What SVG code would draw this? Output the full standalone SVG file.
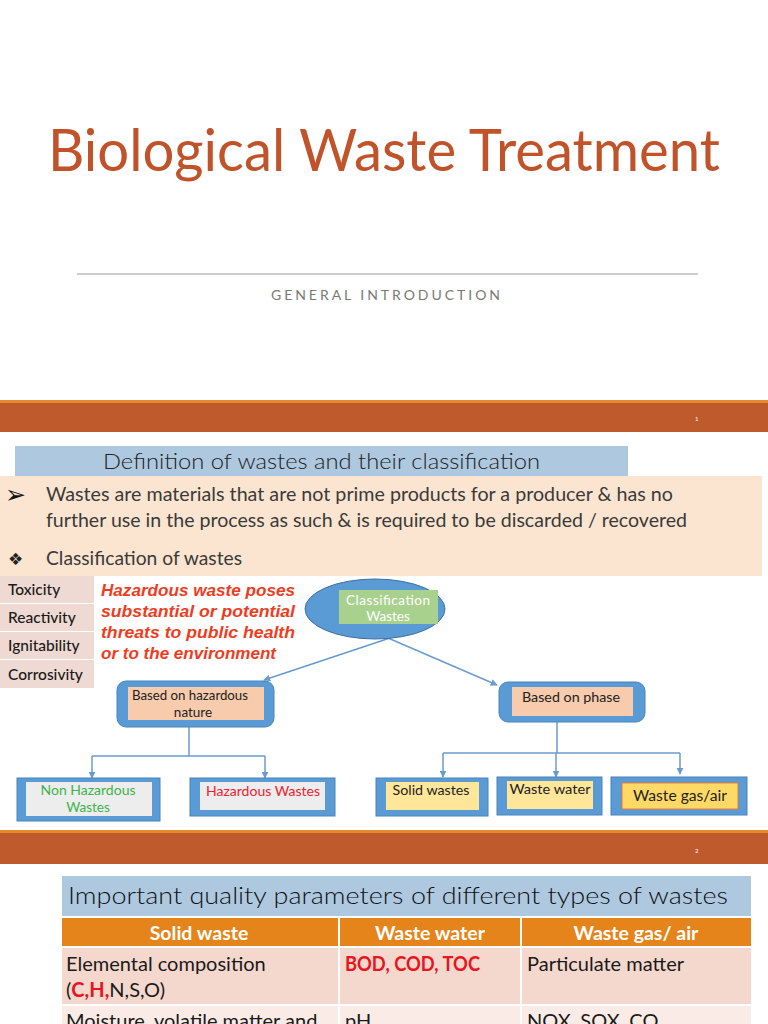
<svg xmlns="http://www.w3.org/2000/svg" width="768" height="1024" viewBox="0 0 768 1024">
<defs>
<style>
.lato{font-family:Lato,"Open Sans","Liberation Sans",sans-serif}
.bt{font-family:Lato,"Open Sans","Liberation Sans",sans-serif;font-size:19px;fill:#3a3a3a}
.sm{font-family:Lato,"Open Sans","Liberation Sans",sans-serif;font-size:13.5px;fill:#222;text-anchor:middle}
.tab{font-family:Lato,"Open Sans","Liberation Sans",sans-serif;font-size:15.5px;fill:#1a1a1a;font-weight:500}
.red{font-family:"Liberation Sans",Arial,sans-serif;font-size:17px;font-weight:bold;font-style:italic;fill:#F03C1E}
.outer{fill:#5B9BD5;stroke:#4A84BA;stroke-width:1}
.conn{fill:none;stroke:#6A9BD0;stroke-width:1.5}
.cell{font-family:Lato,"Open Sans","Liberation Sans",sans-serif;font-size:20px;fill:#1a1a1a}
.hd{font-family:Lato,"Open Sans","Liberation Sans",sans-serif;font-size:19.5px;fill:#fff;font-weight:bold;text-anchor:middle}
</style>
<marker id="ah" viewBox="0 0 10 10" refX="9" refY="5" markerWidth="7" markerHeight="7" orient="auto" markerUnits="userSpaceOnUse">
<path d="M0,0 L10,5 L0,10 z" fill="#6A9BD0"/>
</marker>
</defs>
<rect width="768" height="1024" fill="#fff"/>

<g id="slide1">
<text x="48" y="171" class="lato" font-size="58" font-weight="400" fill="#C0532A" textLength="672" lengthAdjust="spacingAndGlyphs">Biological Waste Treatment</text>
<line x1="77" y1="274" x2="698" y2="274" stroke="#9a9a9a" stroke-width="1.2"/>
<text x="271" y="300" class="lato" font-size="14" fill="#7a7a72" textLength="229" lengthAdjust="spacing">GENERAL INTRODUCTION</text>
</g>

<g id="band1">
<rect x="0" y="400" width="768" height="32" fill="#BE5A2C"/>
<rect x="0" y="400" width="768" height="3" fill="#E58B2E"/>
<text x="695" y="421" class="lato" font-size="6" fill="#fff">1</text>
</g>

<g id="header-def">
<rect x="15" y="446" width="613" height="30" fill="#ADC8DF"/>
<text x="103" y="469" class="lato" font-size="22" font-weight="300" fill="#222" textLength="437" lengthAdjust="spacingAndGlyphs">Definition of wastes and their classification</text>
</g>

<g id="bullets">
<rect x="0" y="476" width="762" height="100" fill="#FBE5D0"/>
<text x="5" y="503" font-family="'DejaVu Sans','Noto Sans',sans-serif" font-size="25" fill="#111">➢</text>
<text x="46" y="501" class="bt" textLength="627" lengthAdjust="spacingAndGlyphs">Wastes are materials that are not prime products for a producer &amp; has no</text>
<text x="46" y="527" class="bt" textLength="641" lengthAdjust="spacingAndGlyphs">further use in the process as such &amp; is required to be discarded / recovered</text>
<text x="8" y="565" font-family="'DejaVu Sans',sans-serif" font-size="17" fill="#222">❖</text>
<text x="46" y="565" class="bt" textLength="196" lengthAdjust="spacingAndGlyphs">Classification of wastes</text>
</g>

<g id="properties">
<rect x="0" y="576" width="94" height="27" fill="#EFDAD3"/>
<rect x="0" y="604" width="94" height="27" fill="#EFDAD3"/>
<rect x="0" y="632" width="94" height="27" fill="#EFDAD3"/>
<rect x="0" y="660" width="94" height="28" fill="#EFDAD3"/>
<text x="8" y="595" class="tab">Toxicity</text>
<text x="8" y="623" class="tab">Reactivity</text>
<text x="8" y="651" class="tab">Ignitability</text>
<text x="8" y="680" class="tab">Corrosivity</text>
</g>

<g id="hazard-note">
<text x="101" y="596" class="red" textLength="194" lengthAdjust="spacingAndGlyphs">Hazardous waste poses</text>
<text x="101" y="617" class="red" textLength="194" lengthAdjust="spacingAndGlyphs">substantial or potential</text>
<text x="101" y="638" class="red" textLength="194" lengthAdjust="spacingAndGlyphs">threats to public health</text>
<text x="101" y="659" class="red" textLength="175" lengthAdjust="spacingAndGlyphs">or to the environment</text>
</g>

<g id="connectors">
<line x1="390" y1="638" x2="264" y2="680" class="conn" marker-end="url(#ah)"/>
<line x1="388" y1="638" x2="497" y2="685" class="conn" marker-end="url(#ah)"/>
<polyline points="189,727 189,756" class="conn"/>
<line x1="92" y1="756" x2="265" y2="756" class="conn"/>
<line x1="92" y1="756" x2="92" y2="778" class="conn" marker-end="url(#ah)"/>
<line x1="265" y1="756" x2="265" y2="778" class="conn" marker-end="url(#ah)"/>
<polyline points="557,722 557,753" class="conn"/>
<line x1="443" y1="753" x2="680" y2="753" class="conn"/>
<line x1="443" y1="753" x2="443" y2="777" class="conn" marker-end="url(#ah)"/>
<line x1="556" y1="753" x2="556" y2="777" class="conn" marker-end="url(#ah)"/>
<line x1="680" y1="753" x2="680" y2="774" class="conn" marker-end="url(#ah)"/>
</g>

<g id="classification">
<ellipse cx="375" cy="609" rx="70" ry="30" fill="#5B9BD5" stroke="#41719C" stroke-width="1"/>
<rect x="339" y="590" width="99" height="34" fill="#A9D18E"/>
<text x="388" y="605" class="sm" style="fill:#fff" textLength="84" lengthAdjust="spacing">Classification</text>
<text x="388" y="621" class="sm" style="fill:#fff">Wastes</text>
</g>

<g id="hazardous-nature">
<rect x="117" y="681" width="157" height="46" rx="9" class="outer"/>
<rect x="128" y="687" width="136" height="33" fill="#F8CBAD"/>
<text x="190" y="700" class="sm" textLength="116" lengthAdjust="spacingAndGlyphs">Based on hazardous</text>
<text x="193" y="717" class="sm">nature</text>
</g>

<g id="phase">
<rect x="499" y="682" width="146" height="40" rx="9" class="outer"/>
<rect x="512" y="687" width="121" height="29" fill="#F8CBAD"/>
<text x="571" y="702" class="sm" textLength="98" lengthAdjust="spacingAndGlyphs">Based on phase</text>
</g>

<g id="non-hazardous">
<rect x="17" y="778" width="143" height="43" class="outer"/>
<rect x="26" y="782" width="126" height="34" fill="#EDEDED"/>
<text x="88" y="795" class="sm" style="fill:#3CB44B" textLength="95" lengthAdjust="spacingAndGlyphs">Non Hazardous</text>
<text x="88" y="812" class="sm" style="fill:#3CB44B">Wastes</text>
</g>

<g id="hazardous">
<rect x="190" y="778" width="145" height="38" class="outer"/>
<rect x="200" y="782" width="125" height="28" fill="#EDEDED"/>
<text x="263" y="796" class="sm" style="fill:#F02030" textLength="114" lengthAdjust="spacingAndGlyphs">Hazardous Wastes</text>
</g>

<g id="solid">
<rect x="376" y="778" width="112" height="38" class="outer"/>
<rect x="386" y="782" width="93" height="28" fill="#FFE699"/>
<text x="431" y="795" class="sm" textLength="77" lengthAdjust="spacingAndGlyphs">Solid wastes</text>
</g>

<g id="water">
<rect x="497" y="777" width="105" height="38" class="outer"/>
<rect x="507" y="781" width="86" height="28" fill="#FFE699"/>
<text x="550" y="794" class="sm" textLength="81" lengthAdjust="spacingAndGlyphs">Waste water</text>
</g>

<g id="gas">
<rect x="611" y="777" width="136" height="38" class="outer"/>
<rect x="622" y="783" width="116" height="26" fill="#FFD966" stroke="#ED7D31" stroke-width="1"/>
<text x="680" y="801" class="sm" style="font-size:15.5px" textLength="94" lengthAdjust="spacingAndGlyphs">Waste gas/air</text>
</g>

<g id="band2">
<rect x="0" y="830" width="768" height="34" fill="#BE5A2C"/>
<rect x="0" y="830" width="768" height="3" fill="#E58B2E"/>
<text x="695" y="853" class="lato" font-size="6" fill="#fff">2</text>
</g>

<g id="table">
<rect x="62" y="876" width="689" height="40" fill="#ADC8DF"/>
<text x="68" y="904" class="lato" font-size="24" font-weight="300" fill="#111" textLength="660" lengthAdjust="spacingAndGlyphs">Important quality parameters of different types of wastes</text>
<rect x="62" y="918" width="276" height="28" fill="#E4841B"/>
<rect x="340" y="918" width="180" height="28" fill="#E4841B"/>
<rect x="522" y="918" width="229" height="28" fill="#E4841B"/>
<text x="199" y="940" class="hd">Solid waste</text>
<text x="430" y="940" class="hd">Waste water</text>
<text x="636" y="940" class="hd">Waste gas/ air</text>
<rect x="62" y="948" width="276" height="56" fill="#F5D8CD"/>
<rect x="340" y="948" width="180" height="56" fill="#F5D8CD"/>
<rect x="522" y="948" width="229" height="56" fill="#F5D8CD"/>
<rect x="62" y="1006" width="276" height="18" fill="#FAEBE6"/>
<rect x="340" y="1006" width="180" height="18" fill="#FAEBE6"/>
<rect x="522" y="1006" width="229" height="18" fill="#FAEBE6"/>
<text x="66" y="971" class="cell">Elemental composition</text>
<text x="66" y="997" class="cell">(<tspan fill="#E8141E" font-weight="bold">C,H,</tspan>N,S,O)</text>
<text x="345" y="971" class="cell" style="fill:#E8141E;font-weight:bold" textLength="135" lengthAdjust="spacingAndGlyphs">BOD, COD, TOC</text>
<text x="527" y="971" class="cell">Particulate matter</text>
<text x="66" y="1028" class="cell">Moisture, volatile matter and</text>
<text x="345" y="1028" class="cell">pH</text>
<text x="527" y="1028" class="cell">NOX, SOX, CO</text>
</g>
</svg>
